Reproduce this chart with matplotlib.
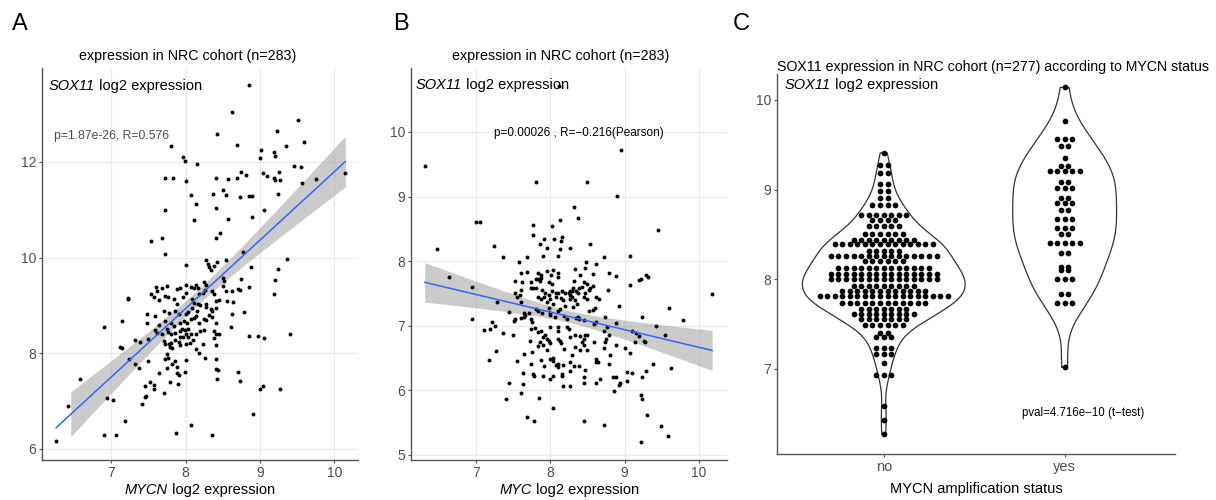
import numpy as np
import matplotlib
matplotlib.use("Agg")
from matplotlib import pyplot as plt

plt.rcParams["font.family"] = ["Liberation Sans", "DejaVu Sans"]

SPINE = "#555555"
TICKTXT = "#4d4d4d"
GRID = "#ebebeb"
BLUE = "#3366ff"

# panel A: MYCN vs SOX11
mycn_a = [
    8.85, 8.63, 9.51, 9.23, 8.42, 7.81, 8.69, 9.59, 9.35, 9.02, 9.19, 7.96, 7.99, 9.00, 9.20, 8.15, 9.46, 9.55,
    7.73, 7.83, 8.01, 8.41, 8.57, 8.69, 8.75, 8.81, 9.04, 9.10, 9.19, 9.21, 9.27, 9.26, 9.57, 9.76, 10.15, 8.07,
    8.37, 8.50, 8.55, 8.73, 8.86, 8.90, 9.25, 8.14, 8.41, 7.73, 9.06, 8.57, 8.90, 8.12, 7.54, 7.69, 8.41, 8.46,
    6.26, 6.42, 6.58, 6.91, 6.95, 7.02, 6.91, 7.06, 9.37, 9.24, 9.20, 9.19, 9.41, 9.27, 9.04, 9.00, 8.91, 8.97,
    9.06, 8.85, 8.88, 8.77, 7.72,
    7.64, 7.46, 7.52, 7.57, 7.57, 7.47, 7.46, 7.41, 7.19, 7.71, 7.79, 7.90, 7.88, 7.91, 7.99, 8.43, 8.44, 8.70,
    8.73, 7.87, 8.07, 8.36,
    8.00, 8.28, 8.30, 8.32, 8.34, 8.39, 8.42, 8.54, 8.50, 8.52,
    8.74, 8.25, 8.27, 8.14, 8.17, 8.12, 8.00, 8.07, 7.93, 7.88,
    7.75, 7.68, 7.60, 7.62, 7.54, 7.57, 7.64, 7.73, 7.76, 7.84,
    7.89, 7.96, 8.01, 8.09, 8.18, 8.23, 8.26, 8.36, 8.39, 8.50,
    8.54, 8.63, 8.71, 8.73, 8.85, 8.41, 8.45, 8.56, 8.64, 8.17,
    8.20, 8.27, 8.28, 8.34, 8.36, 8.41, 8.11, 8.16, 8.09, 8.03,
    8.00, 7.91, 7.86, 7.78, 7.71, 7.48, 7.59, 7.23, 7.22, 7.14,
    7.48, 7.73, 7.80, 7.84, 7.93, 7.98, 8.02, 8.07, 8.11, 8.14,
    8.18, 8.25, 8.28, 8.32, 8.36, 8.41, 8.63, 8.79, 8.61, 7.64,
    7.59, 7.62, 7.68, 7.75, 7.77, 7.81, 7.86, 7.93, 7.95, 7.99,
    8.04, 8.07, 8.14, 8.19, 8.25, 8.38, 8.41, 8.45, 7.93, 7.96,
    8.00, 8.03, 8.10, 8.06, 8.00, 7.93, 7.91, 7.86, 7.80, 7.78,
    7.79, 7.82, 7.73, 7.71, 7.50, 7.39, 7.32, 7.12, 7.15, 8.38,
    8.41, 8.23, 8.14, 8.26, 8.41, 8.00, 7.86, 7.77, 7.73, 7.82,
    7.75, 7.89, 7.37, 7.32, 7.24, 7.50, 8.41, 7.75, 8.18,
]
sox11_a = [
    13.60, 13.04, 12.88, 12.65, 12.59, 12.33, 12.36, 12.42, 12.33, 12.24, 12.21, 12.10, 12.02, 12.09, 12.13, 11.95,
    11.92, 11.90, 11.66, 11.67, 11.59, 11.66, 11.64, 11.67, 11.79, 11.73, 11.77, 11.71, 11.67, 11.62, 11.63, 11.79,
    11.56, 11.65, 11.77, 11.30, 11.33, 11.42, 11.30, 11.26, 11.28, 11.29, 11.33, 11.12, 11.04, 10.99, 11.00, 10.81,
    10.85, 10.79, 10.35, 10.41, 10.40, 10.51,
    6.17, 6.90, 7.46, 8.55, 7.06, 7.02, 6.30, 6.29, 9.96, 9.77, 9.54, 9.24, 8.40, 7.26, 7.31, 7.25, 6.74, 8.36,
    8.31, 8.36, 9.81, 10.11, 10.08,
    7.58, 7.32, 7.41, 7.34, 7.26, 7.11, 7.09, 6.94, 6.58, 7.18, 7.39, 7.35, 7.58, 7.55, 7.60, 7.46, 7.65, 7.60,
    7.42, 6.33, 6.51, 6.30,
    9.85, 9.94, 9.87, 9.80, 9.75, 9.82, 9.91, 9.94, 9.58, 9.52,
    9.56, 9.49, 9.42, 9.42, 9.37, 9.37, 9.42, 9.39, 9.37, 9.35,
    9.41, 9.37, 9.38, 9.30, 9.23, 9.18, 9.11, 9.19, 9.18, 9.13,
    9.02, 9.17, 9.26, 9.14, 9.23, 9.26, 9.33, 9.30, 9.24, 9.40,
    9.30, 9.31, 9.35, 9.32, 9.38, 9.09, 9.11, 9.09, 9.07, 9.02,
    9.00, 9.03, 8.97, 8.93, 8.88, 8.94, 9.06, 8.88, 8.94, 8.87,
    8.81, 8.81, 8.88, 8.85, 8.88, 8.81, 8.78, 9.16, 9.13, 8.67,
    8.63, 8.67, 8.64, 8.57, 8.64, 8.67, 8.64, 8.71, 8.74, 8.78,
    8.64, 8.71, 8.69, 8.79, 8.76, 8.64, 8.83, 8.86, 8.55, 8.60,
    8.48, 8.43, 8.41, 8.50, 8.44, 8.40, 8.42, 8.47, 8.51, 8.48,
    8.50, 8.40, 8.40, 8.47, 8.49, 8.47, 8.40, 8.40, 8.33, 8.35,
    8.40, 8.33, 8.28, 8.21, 8.19, 8.17, 8.24, 8.27, 8.22, 8.19,
    8.14, 8.10, 8.20, 8.26, 8.29, 8.24, 8.27, 8.14, 8.10, 8.31,
    8.17, 8.19, 8.08, 7.91, 7.88, 7.85, 7.84, 7.91, 7.88, 7.78,
    7.70, 7.72, 7.70, 7.77, 7.88, 7.83, 7.67, 7.98, 8.01,
]

# panel B: MYC vs SOX11
myc_b = [
    6.31, 8.12, 8.95, 7.81, 8.49, 8.90, 8.32, 8.38, 8.13, 8.03, 7.77, 7.77, 7.00, 7.05, 7.24, 6.47, 9.45, 8.53,
    7.92, 7.86, 8.05, 8.16, 8.15, 8.26, 7.96, 8.13,
    6.63, 6.95, 6.95, 7.11, 7.18,
    9.22, 9.29, 9.31, 9.23, 9.43, 9.54, 9.60, 9.79, 10.18, 9.26, 9.28, 9.39, 9.29, 9.23, 9.63, 9.22, 9.24, 9.30,
    9.49, 9.58, 9.22,
    7.37, 7.58, 7.69, 7.90, 8.10, 8.48, 8.61, 8.72, 9.08, 7.96,
    8.01, 8.04, 8.11, 8.10, 7.84, 7.87, 7.69, 7.61, 8.34, 8.47,
    8.40, 8.57, 8.79, 8.88, 7.53, 7.62, 7.74, 7.81, 7.86, 7.83,
    7.88, 7.98, 8.02, 8.32, 8.45, 8.49, 8.43, 8.31, 8.29, 8.35,
    8.38, 8.39, 8.54, 8.57, 8.52, 9.08, 9.20, 7.74, 7.77, 7.81,
    7.89, 7.60, 7.93, 7.98, 8.08, 8.02, 8.11, 8.16, 8.20, 8.25,
    8.26, 8.27, 8.47, 8.78, 7.52, 7.59, 7.55, 7.84, 7.88, 7.92,
    7.96, 7.99, 8.04, 8.08, 8.14, 8.17, 8.20, 8.29, 8.27, 8.33,
    8.36, 8.45, 8.50, 8.61, 8.65, 8.31, 7.28, 7.60, 8.60, 8.57,
    8.92, 7.44, 7.64, 7.64, 7.61, 7.66, 7.71, 7.74, 7.81, 7.84,
    7.89, 7.98, 7.99, 8.00, 8.07, 8.10, 8.13, 8.19, 8.22, 8.35,
    8.37, 8.39, 8.45, 8.52, 8.61, 8.74, 7.51, 7.53, 7.21, 7.26,
    7.19, 7.36, 7.50, 7.75, 7.74, 7.80, 7.84, 7.88, 7.93, 7.90,
    8.00, 8.10, 8.11, 8.22, 8.25, 8.34, 8.40, 8.47, 8.50, 8.59,
    8.76, 8.73, 8.79, 8.75, 8.89, 9.10, 9.16, 9.19, 8.27, 7.73,
    7.86, 7.90, 7.84, 7.96, 7.98, 7.99, 8.11, 8.13, 8.14, 8.19,
    8.45, 8.43, 8.46, 8.34, 8.40, 8.49, 8.59, 8.74, 8.73, 8.89,
    9.00, 9.07, 9.14, 7.27, 7.64, 7.75, 7.96, 7.99, 8.04, 8.29,
    8.61, 8.81,
    7.55, 7.74, 7.92, 7.87, 8.04, 8.08, 8.10, 8.11, 8.17, 8.27,
    8.32, 8.39, 8.47, 8.46, 8.61, 8.64, 8.79, 7.63, 7.77, 7.78,
    7.90, 8.00, 8.04, 8.16, 8.16, 8.27, 8.62, 8.67, 8.84, 8.89,
    8.93, 8.94, 9.04, 9.10, 9.04, 8.86, 7.45, 7.63, 7.60, 7.41,
    7.85, 8.04, 8.17, 8.27, 8.46, 7.69, 7.78, 8.45, 8.72,
]
sox11_b = [
    9.48, 10.71, 9.72, 9.23, 9.22, 9.01, 8.84, 8.67, 8.64, 8.54, 8.56, 8.40, 8.61, 8.60, 8.24, 8.19, 8.48, 8.27,
    8.34, 8.27, 8.34, 8.38, 8.31, 8.20, 8.20, 8.19,
    7.75, 7.60, 7.10, 6.93, 6.47,
    7.72, 7.78, 7.76, 7.14, 6.99, 6.85, 7.27, 7.09, 7.49, 6.77, 6.75, 6.41, 6.30, 6.21, 6.35, 5.92, 5.86, 5.61,
    5.44, 5.29, 5.20,
    8.07, 7.98, 8.07, 8.08, 8.08, 7.99, 7.95, 8.07, 8.08, 7.85,
    7.79, 7.86, 7.82, 7.76, 7.81, 7.78, 7.83, 7.81, 7.88, 7.89,
    7.79, 7.80, 7.82, 7.77, 7.69, 7.68, 7.68, 7.72, 7.69, 7.73,
    7.74, 7.67, 7.65, 7.69, 7.68, 7.64, 7.60, 7.58, 7.54, 7.54,
    7.51, 7.58, 7.58, 7.62, 7.56, 7.63, 7.71, 7.58, 7.59, 7.59,
    7.56, 7.55, 7.51, 7.47, 7.50, 7.54, 7.51, 7.54, 7.51, 7.50,
    7.54, 7.48, 7.51, 7.56, 7.50, 7.48, 7.45, 7.44, 7.41, 7.45,
    7.37, 7.41, 7.34, 7.44, 7.43, 7.39, 7.30, 7.45, 7.42, 7.40,
    7.34, 7.44, 7.41, 7.45, 7.42, 7.29, 7.36, 7.36, 7.28, 7.24,
    7.31, 7.21, 7.19, 7.14, 7.12, 7.16, 7.19, 7.11, 7.26, 7.23,
    7.20, 7.27, 7.16, 7.19, 7.14, 7.22, 7.26, 7.15, 7.10, 7.12,
    7.14, 7.11, 7.09, 7.22, 7.06, 7.13, 7.07, 7.10, 7.06, 6.99,
    6.95, 6.88, 6.85, 7.05, 6.95, 6.97, 6.90, 6.92, 6.85, 6.83,
    6.98, 6.98, 6.91, 6.98, 6.95, 6.86, 6.84, 6.85, 6.86, 7.02,
    6.98, 6.91, 6.85, 6.80, 7.04, 6.92, 6.88, 6.84, 6.83, 6.76,
    6.74, 6.70, 6.69, 6.80, 6.76, 6.73, 6.80, 6.76, 6.73, 6.64,
    6.80, 6.74, 6.70, 6.67, 6.62, 6.62, 6.74, 6.74, 6.65, 6.70,
    6.66, 6.57, 6.74, 6.61, 6.56, 6.60, 6.62, 6.49, 6.50, 6.54,
    6.48, 6.54,
    6.46, 6.41, 6.37, 6.47, 6.45, 6.39, 6.36, 6.40, 6.39, 6.44,
    6.37, 6.37, 6.31, 6.21, 6.43, 6.44, 6.41, 6.27, 6.25, 6.22,
    6.22, 6.17, 6.22, 6.25, 6.22, 6.30, 6.12, 6.18, 6.21, 6.21,
    6.08, 6.11, 6.29, 6.26, 6.14, 5.99, 6.12, 6.10, 5.96, 5.86,
    5.88, 5.73, 6.06, 6.07, 6.11, 5.58, 5.53, 5.53, 5.46,
]

# panel C: SOX11 by MYCN amplification (dotplot bins and counts)
status_labels = ["no", "yes"]
no_bins = [9.41, 9.27, 9.19, 9.06, 8.98, 8.91, 8.83, 8.72, 8.66, 8.59, 8.51, 8.44, 8.39, 8.32, 8.26, 8.20, 8.13,
           8.06, 8.00, 7.93, 7.87, 7.81, 7.74, 7.67, 7.61, 7.56, 7.49, 7.40, 7.35, 7.23, 7.17, 7.07, 6.93, 6.59,
           6.43, 6.27]
no_counts = [1, 2, 2, 2, 2, 2, 4, 7, 4, 5, 6, 9, 14, 5, 15, 6, 13, 15, 15, 9, 12, 18, 12, 7, 9, 7, 6, 2, 3, 3, 3,
             1, 3, 1, 1, 1]
yes_bins = [10.14, 9.76, 9.57, 9.49, 9.35, 9.26, 9.21, 9.09, 9.02, 8.91, 8.85, 8.77, 8.67, 8.57, 8.50, 8.40, 8.29,
            8.14, 8.10, 8.00, 7.83, 7.74, 7.02]
yes_counts = [1, 1, 3, 2, 1, 2, 5, 2, 3, 2, 3, 2, 3, 3, 2, 5, 2, 2, 2, 3, 2, 3, 1]


def style_axes(ax, grid=True):
    for side in ("top", "right"):
        ax.spines[side].set_visible(False)
    for side in ("left", "bottom"):
        ax.spines[side].set_color(SPINE)
        ax.spines[side].set_linewidth(1.0)
    ax.tick_params(length=2.5, width=0.8, color=SPINE, labelcolor=TICKTXT, labelsize=10, pad=1.5)
    if grid:
        ax.grid(True, color=GRID, linewidth=0.9)
        ax.set_axisbelow(True)


def fit_band(x, y, xs):
    n = len(x)
    slope, icpt = np.polyfit(x, y, 1)
    resid = y - (slope * x + icpt)
    s = np.sqrt(np.sum(resid ** 2) / (n - 2))
    sxx = np.sum((x - x.mean()) ** 2)
    se = s * np.sqrt(1.0 / n + (xs - x.mean()) ** 2 / sxx)
    fit = slope * xs + icpt
    return fit, fit - 1.97 * se, fit + 1.97 * se


def scatter_panel(ax, x, y, band_start):
    x, y = np.asarray(x), np.asarray(y)
    assert len(x) == len(y), (len(x), len(y))
    ax.scatter(x, y, s=8, color="black", linewidths=0, zorder=3)
    xs = np.linspace(x.min(), x.max(), 100)
    fit, lo, hi = fit_band(x, y, xs)
    keep = xs >= band_start
    ax.fill_between(xs[keep], lo[keep], hi[keep], color="#999999", alpha=0.5, linewidth=0, zorder=2)
    ax.plot(xs, fit, color=BLUE, linewidth=1.1, zorder=4)


def violin_shapes(groups, maxwidth=0.45):
    dens = []
    for vals in groups:
        sd = vals.std(ddof=1)
        iqr = np.subtract(*np.percentile(vals, [75, 25]))
        bw = 0.9 * min(sd, iqr / 1.34) * len(vals) ** -0.2
        grid = np.linspace(vals.min(), vals.max(), 300)
        d = np.exp(-0.5 * ((grid[:, None] - vals[None, :]) / bw) ** 2).sum(axis=1)
        d /= len(vals) * bw * np.sqrt(2 * np.pi)
        dens.append((grid, d))
    top = max(d.max() for _, d in dens)
    return [(g, maxwidth * d / top) for g, d in dens]


def dot_stack(ax, xpos, bins, counts, step=0.0417):
    for yv, n in zip(bins, counts):
        offs = (np.arange(n) - (n - 1) / 2.0) * step
        ax.scatter(xpos + offs, np.full(n, yv), s=17, color="black", linewidths=0, zorder=3)


fig = plt.figure(figsize=(12.16, 5.0), dpi=100)
W, H = 1216.0, 500.0


def add_axes(left, top, right, bottom):
    return fig.add_axes([left / W, 1 - bottom / H, (right - left) / W, (bottom - top) / H])


def ylabel_inside(ax, yfrac, xfrac=0.022):
    gene = ax.text(xfrac, yfrac, "SOX11", style="italic", transform=ax.transAxes,
                   fontsize=10.5, ha="left", va="bottom", zorder=5)
    ax.annotate(" log2 expression", xy=(1, 0), xycoords=gene, fontsize=10.5,
                ha="left", va="bottom", zorder=5)


def gene_xlabel(ax, gene, pad_frac):
    t = ax.text(0.5, pad_frac, gene + " log2 expression", transform=ax.transAxes, fontsize=10.5,
                ha="center", va="top", alpha=0)
    ax.figure.canvas.draw()
    bb = t.get_window_extent()
    x0 = ax.transAxes.inverted().transform((bb.x0, bb.y0))[0]
    g = ax.text(x0, pad_frac, gene, style="italic", transform=ax.transAxes, fontsize=10.5,
                ha="left", va="top")
    ax.annotate(" log2 expression", xy=(1, 0), xycoords=g, fontsize=10.5, ha="left", va="bottom")


# A
axA = add_axes(42, 68, 358, 460)
scatter_panel(axA, mycn_a, sox11_a, band_start=np.sort(mycn_a)[1])
axA.set_xlim(6.07, 10.32)
axA.set_ylim(5.77, 13.96)
axA.set_xticks([7, 8, 9, 10])
axA.set_yticks([6, 8, 10, 12])
style_axes(axA)
axA.text(0.462, 1.012, "expression in NRC cohort (n=283)", transform=axA.transAxes,
         ha="center", va="bottom", fontsize=10.3)
ylabel_inside(axA, 0.935)
axA.text(6.23, 12.54, "p=1.87e-26, R=0.576", fontsize=8.8, color="#4d4d4d", ha="left", va="center")

# B
axB = add_axes(411, 68, 727, 460)
scatter_panel(axB, myc_b, sox11_b, band_start=np.min(myc_b))
axB.set_xlim(6.125, 10.38)
axB.set_ylim(4.92, 10.99)
axB.set_xticks([7, 8, 9, 10])
axB.set_yticks([5, 6, 7, 8, 9, 10])
style_axes(axB)
axB.text(0.475, 1.012, "expression in NRC cohort (n=283)", transform=axB.transAxes,
         ha="center", va="bottom", fontsize=10.3)
ylabel_inside(axB, 0.940, 0.016)
axB.text(8.38, 9.98, "p=0.00026 , R=\u22120.216(Pearson)", fontsize=8.5, ha="center", va="center")

# C
axC = add_axes(777, 74, 1175, 454)
groups = [np.repeat(no_bins, no_counts), np.repeat(yes_bins, yes_counts)]
for pos, (grid, half) in zip([1, 2], violin_shapes(groups)):
    xs = np.concatenate([pos - half, (pos + half)[::-1], [pos - half[0]]])
    ys = np.concatenate([grid, grid[::-1], [grid[0]]])
    axC.plot(xs, ys, color="#333333", linewidth=0.9, zorder=2)
dot_stack(axC, 1, no_bins, no_counts)
dot_stack(axC, 2, yes_bins, yes_counts)
axC.set_xlim(0.41, 2.61)
axC.set_ylim(6.05, 10.29)
axC.set_xticks([1, 2])
axC.set_xticklabels(status_labels)
axC.set_yticks([7, 8, 9, 10])
style_axes(axC, grid=False)
axC.tick_params(axis="x", labelsize=10.5)
axC.set_xlabel("MYCN amplification status", fontsize=10.5, labelpad=6)
axC.text(0.0, 1.0, "SOX11 expression in NRC cohort (n=277) according to MYCN status",
         transform=axC.transAxes, ha="left", va="bottom", fontsize=10.2)
ylabel_inside(axC, 0.952, 0.02)
axC.text(2.10, 6.51, "pval=4.716e\u221210 (t\u2212test)", fontsize=8.3, ha="center", va="center")

gene_xlabel(axA, "MYCN", pad_frac=-0.058)
gene_xlabel(axB, "MYC", pad_frac=-0.058)

for px, letter in [(12, "A"), (393, "B"), (733, "C")]:
    fig.text(px / W, 1 - 30 / H, letter, fontsize=17, ha="left", va="baseline")

fig.savefig("out.png", dpi=100)
